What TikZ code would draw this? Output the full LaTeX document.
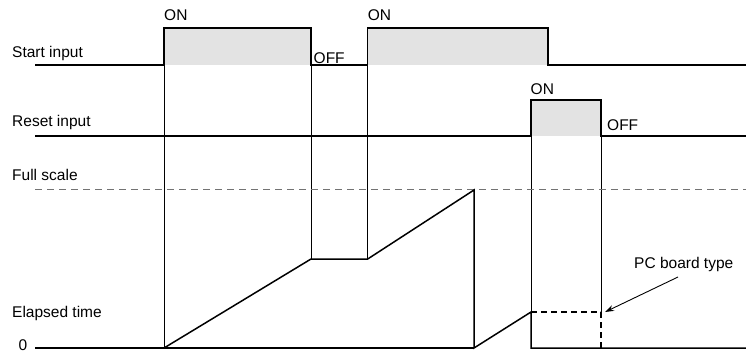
\documentclass[tikz,border=0pt]{standalone}
\usepackage{fontspec}
\setmainfont{Liberation Sans}
\usetikzlibrary{arrows.meta}
\begin{document}
\begin{tikzpicture}[x=1pt,y=-1pt,
  lbl/.style={anchor=base west,inner sep=0pt,font=\fontsize{15.5}{18}\selectfont},
  sig/.style={line width=1.5pt,line join=miter},
  guide/.style={line width=0.9pt},
  pulse/.style={fill=black!11,draw=none},
  fsdash/.style={black!55,line width=1pt,dash pattern=on 7pt off 5pt},
  pcdash/.style={line width=1.5pt,dash pattern=on 6pt off 4pt},
  pointer/.style={line width=0.9pt,-{Stealth[length=9pt,width=6pt]}}]
\useasboundingbox (0,0) rectangle (746,353);
% coordinates
\coordinate (s0) at (35,65);
\coordinate (s1) at (164,65);
\coordinate (s2) at (311,65);
\coordinate (s3) at (367.7,65);
\coordinate (s4) at (548,65);
\coordinate (s5) at (746,65);
\coordinate (r0) at (35,136);
\coordinate (r1) at (531,136);
\coordinate (r2) at (601,136);
\coordinate (r3) at (746,136);
\coordinate (f0) at (35,189.5);
\coordinate (f1) at (746,189.5);
\coordinate (z0) at (35,348);
\coordinate (e1) at (164,348);
\coordinate (e2) at (311,259);
\coordinate (e3) at (367.7,259);
\coordinate (e4) at (474,190);
\coordinate (e5) at (474,348);
\coordinate (e6) at (531,312);
\coordinate (e7) at (531,348);
\coordinate (e8) at (746,348);
\coordinate (p1) at (601,312);
\coordinate (p2) at (601,348);
\coordinate (tip) at (605,312);
% pulses fill
\fill[pulse] (164,28) rectangle (s2);
\fill[pulse] (367.7,28) rectangle (s4);
\fill[pulse] (531,100) rectangle (r2);
% guide verticals
\draw[guide] (s1) -- (e1);
\draw[guide] (s2) -- (e2);
\draw[guide] (s3) -- (e3);
\draw[guide] (r1) -- (e6);
\draw[guide] (r2) -- (p1);
% start input
\draw[sig] (s0) -- (s1) -- (164,28) -- (311,28) -- (s2) -- (s3) -- (367.7,28) -- (548,28) -- (s4) -- (s5);
% reset input
\draw[sig] (r0) -- (r1) -- (531,100) -- (601,100) -- (r2) -- (r3);
% full scale
\draw[fsdash] (f0) -- (f1);
% elapsed time
\draw[sig] (z0) -- (e5);
\draw[sig] (e1) -- (e2) -- (e3) -- (e4) -- (e5) -- (e6) -- (e7) -- (e8);
\draw[pcdash] (e6) -- (p1) -- (p2);
% labels
\node[lbl] (lstart) at (12,57.3) {Start input};
\node[lbl] (lreset) at (12,126) {Reset input};
\node[lbl] (lfull) at (12,180.7) {Full scale};
\node[lbl] (lelap) at (12,317.7) {Elapsed time};
\node[lbl] (lzero) at (18.3,350.8) {0};
\node[lbl] (on1) at (164,20.7) {ON};
\node[lbl] (off1) at (313.5,63.3) {OFF};
\node[lbl] (on2) at (367.7,20.7) {ON};
\node[lbl] (on3) at (530.5,94.3) {ON};
\node[lbl] (off2) at (607,130) {OFF};
\node[lbl] (pc) at (634,268) {PC board type};
\coordinate (pcfoot) at (678,277);
\draw[pointer] (pcfoot) -- (tip);
\end{tikzpicture}
\end{document}
